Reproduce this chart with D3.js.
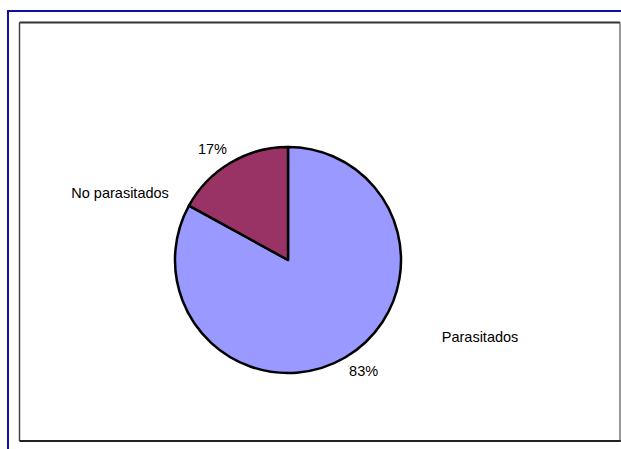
<!DOCTYPE html>
<html>
<head>
<meta charset="utf-8">
<script src="https://cdn.jsdelivr.net/npm/d3@7"></script>
<style>
  body { margin: 0; background: #fff; }
  text { font-family: "Liberation Sans", Arial, sans-serif; font-size: 14.5px; fill: #000; }
</style>
</head>
<body>
<script>
// data
var categories = ["Parasitados", "No parasitados"];
var values = [83, 17];
var colors = ["#9999FF", "#993366"];

var width = 621, height = 449;
var cx = 288, cy = 260, radius = 113;

const svg = d3.select('body')
    .append("svg")
        .attr("width", width)
        .attr("height", height)

// outer frame (only top/left visible)
svg.append("rect")
    .attr("x", 8).attr("y", 11)
    .attr("width", 700).attr("height", 500)
    .attr("fill", "none")
    .attr("stroke", "#1010a0")
    .attr("stroke-width", 2)

// plot area
var px0 = 19.5, py0 = 22.5, px1 = 620, py1 = 441;
svg.append("line").attr("x1", px0).attr("x2", px0).attr("y1", py0).attr("y2", py1)
    .attr("stroke", "#444").attr("stroke-width", 1.5)
svg.append("line").attr("x1", px1).attr("x2", px1).attr("y1", py0).attr("y2", py1)
    .attr("stroke", "#777").attr("stroke-width", 1.5)
svg.append("line").attr("x1", px0).attr("x2", px1).attr("y1", py0).attr("y2", py0)
    .attr("stroke", "#333").attr("stroke-width", 2)
svg.append("line").attr("x1", px0).attr("x2", px1 + 0.75).attr("y1", py1).attr("y2", py1)
    .attr("stroke", "#222").attr("stroke-width", 2)

const pie = d3.pie().sort(null).value(d => d);
const arcs = pie(values);

const arc = d3.arc().innerRadius(0).outerRadius(radius);

const g = svg.append("g").attr("transform", "translate(" + cx + "," + cy + ")");

g.selectAll("path")
    .data(arcs)
    .enter().append("path")
        .attr("d", arc)
        .attr("fill", (d, i) => colors[i])
        .attr("stroke", "#000")
        .attr("stroke-width", 2.5)
        .attr("stroke-linejoin", "round")

var mid = d => (d.startAngle + d.endAngle) / 2;
var deg = Math.PI / 180;

// percentage labels just outside the pie
var total = d3.sum(values);
var pctRadius = 134.5, pctShift = -3.6 * deg;
g.selectAll("text.pct")
    .data(arcs)
    .enter().append("text")
        .attr("class", "pct")
        .attr("text-anchor", "middle")
        .attr("dy", "0.35em")
        .attr("x", d => pctRadius * Math.sin(mid(d) + pctShift))
        .attr("y", d => -pctRadius * Math.cos(mid(d) + pctShift))
        .text(d => Math.round(d.value / total * 100) + "%")

// category labels, rotated back from the slice middle
var nameShift = -37.5 * deg;
var nameRadius = [207, 181];
g.selectAll("text.name")
    .data(arcs)
    .enter().append("text")
        .attr("class", "name")
        .attr("text-anchor", "middle")
        .attr("dy", "0.35em")
        .attr("x", (d, i) => nameRadius[i] * Math.sin(mid(d) + nameShift))
        .attr("y", (d, i) => -nameRadius[i] * Math.cos(mid(d) + nameShift))
        .text((d, i) => categories[i])
</script>
</body>
</html>
